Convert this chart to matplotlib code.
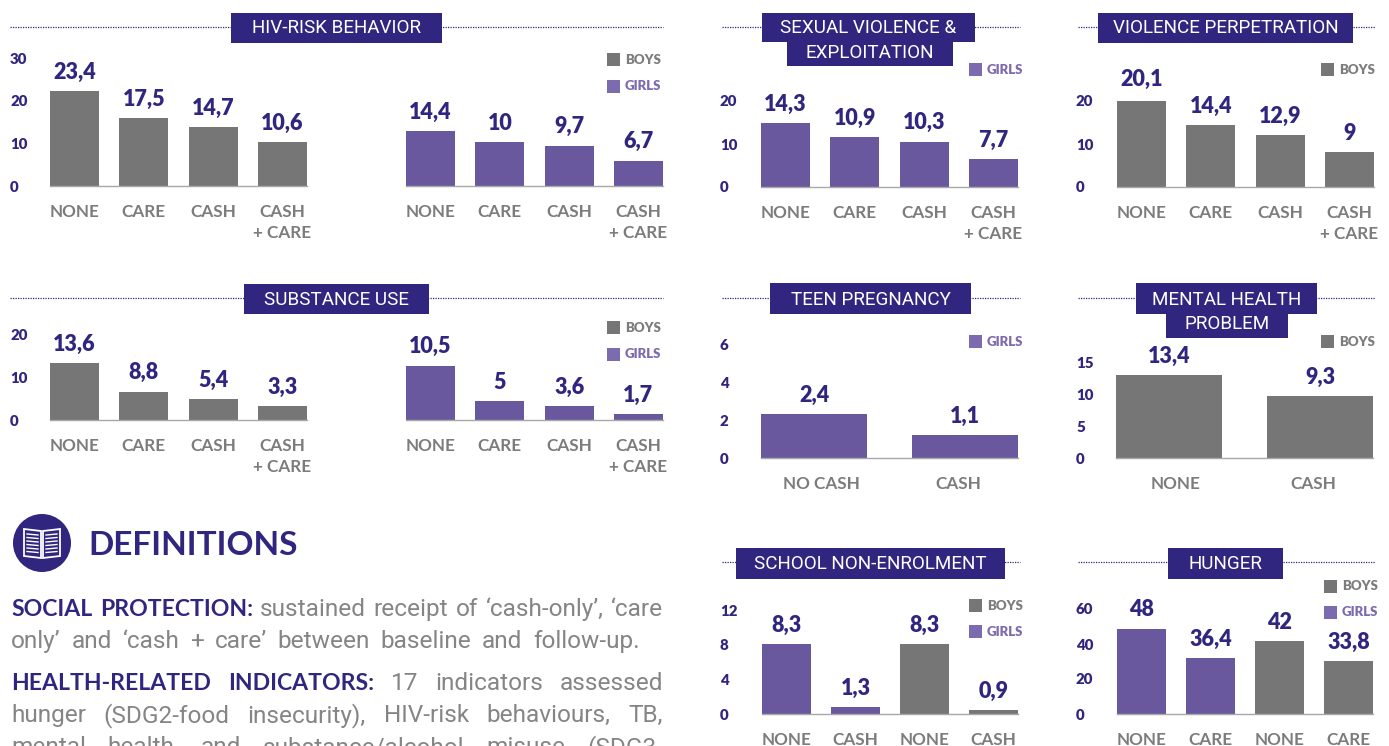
import matplotlib
matplotlib.use("Agg")
import matplotlib.pyplot as plt
from matplotlib.patches import Rectangle, Circle, Polygon

W, H, DPI = 1389, 746, 100
NAVY, GREY, PURPLE, LIGHT = "#31267f", "#767677", "#6a589f", "#7d6bb0"
SANS = ["Lato", "DejaVu Sans"]
NARROW = ["Roboto", "DejaVu Sans"]

CATS4 = ["NONE", "CARE", "CASH", "CASH\n+ CARE"]

hiv_boys = [22.2, 15.9, 13.8, 10.3]
hiv_boys_labels = ["23,4", "17,5", "14,7", "10,6"]
hiv_girls = [12.9, 10.3, 9.4, 5.9]
hiv_girls_labels = ["14,4", "10", "9,7", "6,7"]
sexual = [14.9, 11.6, 10.5, 6.5]
sexual_labels = ["14,3", "10,9", "10,3", "7,7"]
violence = [20.5, 14.4, 12.1, 8.1]
violence_labels = ["20,1", "14,4", "12,9", "9"]
subst_boys = [13.3, 6.7, 4.9, 3.3]
subst_boys_labels = ["13,6", "8,8", "5,4", "3,3"]
subst_girls = [12.8, 4.4, 3.3, 1.4]
subst_girls_labels = ["10,5", "5", "3,6", "1,7"]
teen = [2.34, 1.22]
teen_labels = ["2,4", "1,1"]
teen_cats = ["NO CASH", "CASH"]
mental = [12.97, 9.7]
mental_labels = ["13,4", "9,3"]
mental_cats = ["NONE", "CASH"]
school = [8.07, 0.8, 8.07, 0.46]
school_labels = ["8,3", "1,3", "8,3", "0,9"]
school_cats = ["NONE", "CASH", "NONE", "CASH"]
hunger = [48.6, 32.0, 41.7, 30.3]
hunger_labels = ["48", "36,4", "42", "33,8"]
hunger_cats = ["NONE", "CARE", "NONE", "CARE"]

fig = plt.figure(figsize=(W / DPI, H / DPI), dpi=DPI, facecolor="white")
ov = fig.add_axes([0, 0, 1, 1], zorder=5)
ov.set_xlim(0, W); ov.set_ylim(H, 0); ov.axis("off"); ov.patch.set_alpha(0)
PT = 72 / DPI


def panel(values, labels, cats, colors, first, pitch, barw, base, top, ymax, yticks, label_x, inset=0.0):
    n = len(values)
    left = first - pitch / 2
    ax = fig.add_axes([left / W, (H - base) / H, n * pitch / W, (base - top) / H])
    ax.patch.set_alpha(0)
    ax.set_xlim(-0.5, n - 0.5)
    ax.set_ylim(0, ymax)
    w = barw / pitch
    ax.bar(range(n), values, width=w, color=colors, linewidth=0)
    for i, (v, s) in enumerate(zip(values, labels)):
        ax.annotate(s, (i, v), xytext=(0, 19 * PT), textcoords="offset points",
                    ha="center", va="center", color=NAVY, family=SANS,
                    fontsize=15.5, fontweight="heavy", annotation_clip=False)
    for s in ("top", "left", "right"):
        ax.spines[s].set_visible(False)
    ax.spines["bottom"].set_color("#a8a8a8")
    ax.spines["bottom"].set_linewidth(1.0)
    ax.spines["bottom"].set_bounds(-w / 2, n - 1 + w / 2)
    if inset:
        ax.set_xticks([inset / pitch, n - 1 - inset / pitch])
    else:
        ax.set_xticks(range(n))
    ax.set_xticklabels(cats, family=SANS, fontsize=12.3, fontweight="bold", color="#7c7c7c",
                       linespacing=1.38, ha="center")
    ax.set_yticks(yticks)
    ax.set_yticklabels([str(t) for t in yticks], family=SANS, fontsize=10.8, fontweight="heavy",
                       color=NAVY, ha="left")
    ax.tick_params(axis="x", length=0, pad=18 * PT)
    ax.tick_params(axis="y", length=0, pad=(left - label_x) * PT)
    return ax


panel(hiv_boys, hiv_boys_labels, CATS4, GREY, 74.5, 69.3, 49, 186, 58, 30, [0, 10, 20, 30], 10)
panel(hiv_girls, hiv_girls_labels, CATS4, PURPLE, 430.5, 69.3, 49, 186, 58, 30, [], 10)
panel(sexual, sexual_labels, CATS4, PURPLE, 785.5, 69.3, 49, 187, 101, 20, [0, 10, 20], 720)
panel(violence, violence_labels, CATS4, GREY, 1141.5, 69.3, 49, 187, 101, 20, [0, 10, 20], 1076)
panel(subst_boys, subst_boys_labels, CATS4, GREY, 74.5, 69.3, 49, 420, 335, 20, [0, 10, 20], 10)
panel(subst_girls, subst_girls_labels, CATS4, PURPLE, 430.5, 69.3, 49, 420, 335, 20, [], 10)
panel(teen, teen_labels, teen_cats, PURPLE, 814, 151, 106, 458, 345, 6, [0, 2, 4, 6], 720, inset=7)
panel(mental, mental_labels, mental_cats, GREY, 1169, 151, 106, 458, 362, 15, [0, 5, 10, 15], 1076, inset=7)
panel(school, school_labels, school_cats, [PURPLE, PURPLE, GREY, GREY], 786.5, 69, 49, 714, 610, 12, [0, 4, 8, 12], 720)
panel(hunger, hunger_labels, hunger_cats, [PURPLE, PURPLE, GREY, GREY], 1141.5, 69, 49, 714, 609, 60, [0, 20, 40, 60], 1076)


def title(lines, x0, x1, y):
    ov.plot([x0, x1], [y, y], color=NAVY, lw=0.9, ls=(0, (1, 1)), zorder=1)
    for text, bx0, bx1, by0, by1, ty in lines:
        ov.add_patch(Rectangle((bx0, by0), bx1 - bx0, by1 - by0, color=NAVY, lw=0, zorder=2))
        ov.text((bx0 + bx1) / 2, ty + 1, text, color="white", ha="center", va="center",
                family=NARROW, fontsize=13.6, zorder=3)


title([("HIV-RISK BEHAVIOR", 231, 442, 13, 43, 27)], 10, 663, 27)
title([("SUBSTANCE USE", 244, 429, 284, 314, 299)], 10, 663, 298)
title([("EXPLOITATION", 787, 953, 39, 66, 52), ("SEXUAL VIOLENCE &", 762, 975, 13, 42, 27)], 722, 1020, 27)
title([("VIOLENCE PERPETRATION", 1098, 1353, 13, 43, 27)], 1078, 1375, 27)
title([("TEEN PREGNANCY", 770, 971, 283, 314, 299)], 722, 1020, 298)
title([("PROBLEM", 1166, 1288, 312, 338, 323), ("MENTAL HEALTH", 1136, 1317, 283, 314, 299)], 1078, 1375, 298)
title([("SCHOOL NON-ENROLMENT", 736, 1005, 548, 579, 563)], 722, 1020, 562)
title([("HUNGER", 1168, 1283, 548, 579, 563)], 1078, 1375, 562)


def legend(name, x, y):
    sq, tc = (GREY, "#7c7c7c") if name == "BOYS" else (LIGHT, LIGHT)
    ov.add_patch(Rectangle((x, y - 6.5), 13, 13, color=sq, lw=0))
    ov.text(x + 18, y + 0.5, name, color=tc, ha="left", va="center", family=SANS, fontsize=9.5, fontweight="heavy")


for name, x, y in [("BOYS", 607, 59), ("GIRLS", 607, 86), ("GIRLS", 969, 69), ("BOYS", 1321, 69),
                   ("BOYS", 607, 327), ("GIRLS", 607, 354), ("GIRLS", 969, 341), ("BOYS", 1321, 341),
                   ("BOYS", 969, 605), ("GIRLS", 969, 631), ("BOYS", 1324, 586), ("GIRLS", 1324, 612)]:
    legend(name, x, y)

# Definitions block
ov.add_patch(Circle((42, 543), 29, color=NAVY, lw=0))
ov.add_patch(Polygon([(24, 529), (41, 531), (41, 558), (24, 556)], closed=True, fc=NAVY, ec="white", lw=1.3))
ov.add_patch(Polygon([(60, 529), (43, 531), (43, 558), (60, 556)], closed=True, fc=NAVY, ec="white", lw=1.3))
for k in range(6):
    dy = 535 + k * 3.5
    ov.plot([27, 38], [dy - 1, dy], color="white", lw=1)
    ov.plot([57, 46], [dy - 1, dy], color="white", lw=1)
ov.text(88, 545.5, "DEFINITIONS", color=NAVY, family=SANS, fontsize=24, fontweight="bold",
        ha="left", va="center")

r = fig.canvas.get_renderer()


def width(t):
    return t.get_window_extent(r).width


def line(parts, x0, y, x1=None):
    """parts: list of (string, bold). Words are spread out to end at x1 when it is given."""
    arts = []
    for s, bold in parts:
        for word in s.split():
            if bold:
                a = ov.text(0, y, word, color=NAVY, family=SANS, fontsize=16.6, fontweight="bold",
                            ha="left", va="baseline")
            else:
                a = ov.text(0, y, word, color="#858585", family=NARROW, fontsize=17.6,
                            ha="left", va="baseline")
            arts.append(a)
    ws = [width(a) for a in arts]
    gap = 6.0 if x1 is None else (x1 - x0 - sum(ws)) / (len(ws) - 1)
    x = x0
    for a, w in zip(arts, ws):
        a.set_x(x)
        x += w + gap


line([("SOCIAL PROTECTION:", True), ("sustained receipt of ‘cash-only’, ‘care", False)], 11, 616, 663)
line([("only’ and ‘cash + care’ between baseline and follow-up.", False)], 11, 648, 640)
line([("HEALTH-RELATED INDICATORS:", True), ("17 indicators assessed", False)], 11, 690, 663)
line([("hunger (SDG2-food insecurity), HIV-risk behaviours, TB,", False)], 11, 722, 663)
line([("mental health, and substance/alcohol misuse (SDG3-", False)], 11, 754, 663)

fig.savefig("out.png", dpi=DPI, facecolor="white")
